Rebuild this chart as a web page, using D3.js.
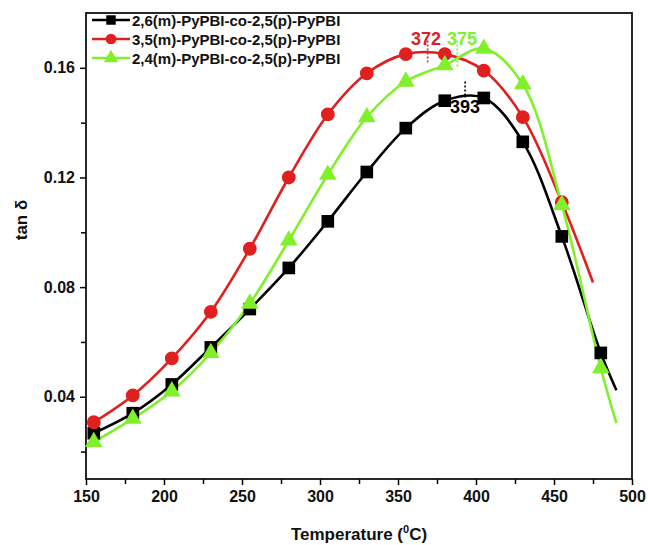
<!DOCTYPE html>
<html>
<head>
<meta charset="utf-8">
<script src="https://cdn.jsdelivr.net/npm/d3@7"></script>
<style>
  body { margin: 0; background: #fff; }
  svg text { font-family: "Liberation Sans", Arial, sans-serif; font-weight: bold; }
</style>
</head>
<body>
<svg id="chart" width="648" height="545"></svg>
<script>
// data
const temps = [155, 180, 205, 230, 255, 280, 305, 330, 355, 380, 405, 430, 455, 480];
const blackVals = [0.0267, 0.034, 0.0445, 0.058, 0.072, 0.087, 0.104, 0.122, 0.138, 0.148, 0.149, 0.133, 0.0985, 0.056];
const redVals = [0.0307, 0.0405, 0.054, 0.071, 0.094, 0.120, 0.143, 0.158, 0.165, 0.165, 0.159, 0.142, 0.111];
const greenVals = [0.0235, 0.032, 0.042, 0.056, 0.074, 0.097, 0.121, 0.142, 0.155, 0.161, 0.167, 0.154, 0.110, 0.0504];
// where each line runs on past its last marker
const endTemps = [490, 475, 490];
const endVals = [0.0424, 0.0817, 0.0304];

const seriesNames = [
  '2,6(m)-PyPBI-co-2,5(p)-PyPBI',
  '3,5(m)-PyPBI-co-2,5(p)-PyPBI',
  '2,4(m)-PyPBI-co-2,5(p)-PyPBI'
];
const colors = ['#000000', '#e0201e', '#80f02a'];
const shapes = [d3.symbolSquare, d3.symbolCircle, d3.symbolTriangle];

const peakLabels = ['393', '372', '375'];
const peakMarkX = [393, 369, 388];

const xTicks = [150, 200, 250, 300, 350, 400, 450, 500];
const yTicks = [0.04, 0.08, 0.12, 0.16];

const width = 648, height = 545;
const margin = { top: 13, right: 16, bottom: 66, left: 86 };

const svg = d3.select('#chart');

const x = d3.scaleLinear().domain([150, 500]).range([margin.left, width - margin.right]);
const y = d3.scaleLinear().domain([0.01, 0.18]).range([height - margin.bottom, margin.top]);

// minor ticks
const xMinor = d3.range(175, 500, 50);
const yMinor = [0.02, 0.06, 0.10, 0.14];

svg.append('g')
  .attr('transform', `translate(0,${height - margin.bottom})`)
  .call(d3.axisBottom(x).tickValues(xMinor).tickSize(5).tickFormat(''))
  .call(g => g.select('.domain').remove())
  .selectAll('line').attr('stroke-width', 1.5);

svg.append('g')
  .attr('transform', `translate(${margin.left},0)`)
  .call(d3.axisLeft(y).tickValues(yMinor).tickSize(5).tickFormat(''))
  .call(g => g.select('.domain').remove())
  .selectAll('line').attr('stroke-width', 1.5);

const xAxis = svg.append('g')
  .attr('transform', `translate(0,${height - margin.bottom})`)
  .call(d3.axisBottom(x).tickValues(xTicks).tickSize(6).tickPadding(6).tickFormat(d3.format('d')));
xAxis.select('.domain').remove();
xAxis.selectAll('line').attr('stroke-width', 1.5);
xAxis.selectAll('text').attr('font-size', 16).attr('fill', '#111');

const yAxis = svg.append('g')
  .attr('transform', `translate(${margin.left},0)`)
  .call(d3.axisLeft(y).tickValues(yTicks).tickSize(6).tickPadding(5).tickFormat(d3.format('.2f')));
yAxis.select('.domain').remove();
yAxis.selectAll('line').attr('stroke-width', 1.5);
yAxis.selectAll('text').attr('font-size', 16).attr('fill', '#111');

// frame
svg.append('rect')
  .attr('x', margin.left).attr('y', margin.top)
  .attr('width', width - margin.left - margin.right)
  .attr('height', height - margin.top - margin.bottom)
  .attr('fill', 'none').attr('stroke', '#111').attr('stroke-width', 1.8);

// axis titles
const xt = svg.append('text')
  .attr('x', (margin.left + width - margin.right) / 2)
  .attr('y', 540)
  .attr('text-anchor', 'middle')
  .attr('font-size', 17)
  .attr('fill', '#111');
xt.append('tspan').text('Temperature (');
xt.append('tspan').text('0').attr('font-size', 11).attr('dy', -7);
xt.append('tspan').text('C)').attr('dy', 7);

svg.append('text')
  .attr('transform', 'translate(27,220) rotate(-90)')
  .attr('text-anchor', 'middle')
  .attr('font-size', 17)
  .attr('fill', '#111')
  .text('tan δ');

const seriesVals = [blackVals, redVals, greenVals];

const line = d3.line()
  .x(d => x(d[0]))
  .y(d => y(d[1]))
  .curve(d3.curveCatmullRom.alpha(0.5));

const plot = svg.append('g');

seriesVals.forEach((vals, i) => {
  const pts = vals.map((v, j) => [temps[j], v]);
  const linePts = pts.concat([[endTemps[i], endVals[i]]]);
  plot.append('path')
    .datum(linePts)
    .attr('d', line)
    .attr('fill', 'none')
    .attr('stroke', colors[i])
    .attr('stroke-width', 2.6);
});

const markerSizes = [160, 150, 135];
seriesVals.forEach((vals, i) => {
  plot.selectAll(null)
    .data(vals.map((v, j) => [temps[j], v]))
    .enter()
    .append('path')
    .attr('transform', d => `translate(${x(d[0])},${y(d[1])})`)
    .attr('d', d3.symbol().type(shapes[i]).size(markerSizes[i]))
    .attr('fill', colors[i]);
});

// peak annotations
const annY = [[0.155, 0.149], [0.170, 0.162], [0.170, 0.160]];
const labelBase = [113, 45, 45];
const labelX = [393, 368, 391];
peakMarkX.forEach((t, i) => {
  svg.append('line')
    .attr('x1', x(t)).attr('x2', x(t))
    .attr('y1', y(annY[i][0])).attr('y2', y(annY[i][1]))
    .attr('stroke', colors[i])
    .attr('stroke-width', 1.6)
    .attr('stroke-dasharray', '2,2');
  svg.append('text')
    .attr('x', x(labelX[i]))
    .attr('y', labelBase[i])
    .attr('text-anchor', 'middle')
    .attr('font-size', 18)
    .attr('fill', colors[i])
    .text(peakLabels[i]);
});

// legend
const legend = svg.append('g');
const rowY = [20, 39, 58];
seriesNames.forEach((name, i) => {
  const g = legend.append('g').attr('transform', `translate(92,${rowY[i]})`);
  g.append('line').attr('x1', 0).attr('x2', 38).attr('y1', 0).attr('y2', 0)
    .attr('stroke', colors[i]).attr('stroke-width', 2.6);
  g.append('path').attr('transform', 'translate(19,0)')
    .attr('d', d3.symbol().type(shapes[i]).size(90))
    .attr('fill', colors[i]);
  g.append('text').attr('x', 40).attr('y', 5.5)
    .attr('font-size', 15).attr('fill', '#111')
    .text(name);
});
</script>
</body>
</html>
